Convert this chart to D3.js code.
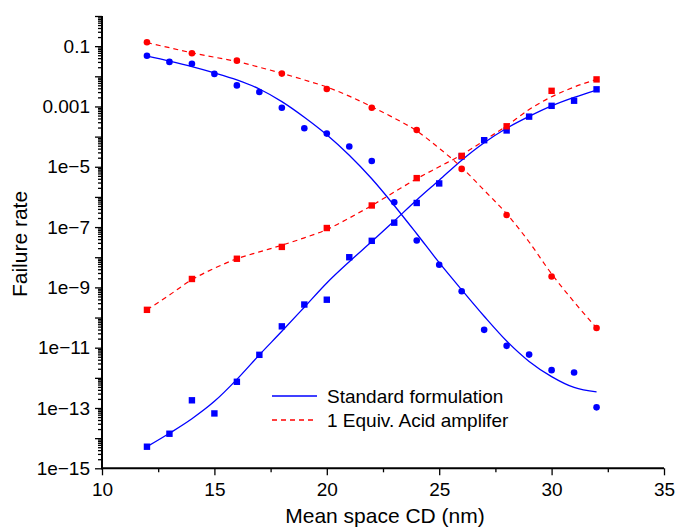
<!DOCTYPE html>
<html>
<head>
<meta charset="utf-8">
<script src="https://cdn.jsdelivr.net/npm/d3@7"></script>
<style>
  html, body { margin: 0; padding: 0; background: #fff; }
  svg { display: block; font-family: "Liberation Sans", Arial, sans-serif; }
</style>
</head>
<body>
<svg id="chart" width="677" height="529"></svg>
<script>
// Mean space CD (nm) for measured points and fitted curves
const cdAll = [12,13,14,15,16,17,18,19,20,21,22,23,24,25,26,27,28,29,30,31,32];
const cdEven = [12,14,16,18,20,22,24,26,28,30,32];

// Standard formulation: measured failure rates
const stdBridge = [4.8e-2,3.0e-2,2.6e-2,1.2e-2,5.0e-3,3.0e-3,9.1e-4,1.9e-4,1.26e-4,4.7e-5,1.55e-5,
                   6.6e-7,3.6e-8,5.6e-9,7.4e-10,3.9e-11,1.15e-11,5.9e-12,1.8e-12,1.5e-12,1.05e-13];
const stdBreak  = [5.2e-15,1.4e-14,1.8e-13,6.6e-14,7.4e-13,5.8e-12,5.1e-11,2.7e-10,3.9e-10,1.0e-8,3.5e-8,
                   1.4e-7,6.3e-7,2.8e-6,2.2e-5,7.6e-5,1.6e-4,4.6e-4,1.05e-3,1.55e-3,3.7e-3];
// Standard formulation: fitted curves
const stdBridgeFit = [4.7e-2,3.2e-2,2.1e-2,1.3e-2,7.6e-3,3.8e-3,1.45e-3,4.4e-4,1.15e-4,2.4e-5,4.0e-6,
                      5.2e-7,6.0e-8,6.6e-9,8.3e-10,1.1e-10,1.66e-11,3.5e-12,1.1e-12,4.8e-13,3.4e-13];
const stdBreakFit  = [5.2e-15,1.45e-14,4.4e-14,1.66e-13,8.9e-13,5.8e-12,3.5e-11,2.2e-10,1.4e-9,7.1e-9,3.3e-8,
                      1.6e-7,7.9e-7,3.6e-6,1.66e-5,6.3e-5,1.9e-4,4.7e-4,1.05e-3,2.0e-3,3.5e-3];

// 1 equiv. acid amplifier: measured failure rates
const aaBridge = [1.35e-1,5.8e-2,3.3e-2,1.23e-2,3.8e-3,9.1e-4,1.66e-4,8.5e-6,2.5e-7,2.3e-9,4.5e-11];
const aaBreak  = [1.8e-10,1.9e-9,8.9e-9,2.2e-8,9.3e-8,5.2e-7,4.2e-6,2.3e-5,2.2e-4,3.3e-3,7.9e-3];
// 1 equiv. acid amplifier: fitted curves
const aaBridgeFit = [1.3e-1,8.9e-2,6.0e-2,4.3e-2,3.1e-2,2.0e-2,1.26e-2,7.6e-3,4.4e-3,2.2e-3,9.8e-4,
                     4.1e-4,1.55e-4,4.1e-5,9.5e-6,1.66e-6,2.75e-7,3.2e-8,2.8e-9,3.3e-10,4.5e-11];
const aaBreakFit  = [1.8e-10,5.6e-10,1.8e-9,4.3e-9,8.9e-9,1.5e-8,2.5e-8,4.4e-8,8.3e-8,2.0e-7,5.2e-7,
                     1.45e-6,4.0e-6,1.0e-5,2.5e-5,7.4e-5,2.3e-4,7.9e-4,2.1e-3,4.4e-3,7.9e-3];

// Axis ticks
const xTicks = [10,15,20,25,30,35];
const xMinorTicks = [12.5,17.5,22.5,27.5,32.5];
const yDecades = [1e0,1e-1,1e-2,1e-3,1e-4,1e-5,1e-6,1e-7,1e-8,1e-9,1e-10,1e-11,1e-12,1e-13,1e-14,1e-15];
const yTickLabels = ["", "0.1", "", "0.001", "", "1e\u22125", "", "1e\u22127", "", "1e\u22129", "",
                     "1e\u221211", "", "1e\u221213", "", "1e\u221215"];
const legendLabels = ["Standard formulation", "1 Equiv. Acid amplifer"];

const BLUE = "#0000ff", RED = "#ff0000";

const svg = d3.select("#chart");
const x = d3.scaleLinear().domain([10, 35]).range([102, 664]);
const y = d3.scaleLog().domain([1e-15, 1]).range([468.3, 16]);

// minor log ticks 2..9 within each decade
const yMinor = [];
yDecades.slice(1).forEach(d => { for (let m = 2; m <= 9; m++) yMinor.push(d * m); });

// Y axis
const gy = svg.append("g").attr("transform", `translate(${x(10)},0)`);
gy.call(d3.axisLeft(y).tickValues(yMinor).tickSize(4).tickFormat(""));
gy.call(g => g.select(".domain").remove());
const gy2 = svg.append("g").attr("transform", `translate(${x(10)},0)`)
  .call(d3.axisLeft(y).tickValues(yDecades).tickSize(7).tickPadding(5)
        .tickFormat((d, i) => yTickLabels[i]));
[gy, gy2].forEach(g => {
  g.selectAll("line").attr("stroke", "#000").attr("stroke-width", 1.3);
});
gy2.select(".domain").attr("stroke", "#000").attr("stroke-width", 2)
   .attr("d", `M0,${y(1e-15) + 1}V${y(1)}`);
gy2.selectAll("text").attr("font-size", 19).attr("fill", "#000")
   .attr("font-family", "Liberation Sans, Arial, sans-serif");

// X axis
const gx = svg.append("g").attr("transform", `translate(0,${y(1e-15)})`);
gx.call(d3.axisBottom(x).tickValues(xMinorTicks).tickSize(4).tickFormat(""));
gx.call(g => g.select(".domain").remove());
const gx2 = svg.append("g").attr("transform", `translate(0,${y(1e-15)})`)
  .call(d3.axisBottom(x).tickValues(xTicks).tickSize(7).tickPadding(7).tickFormat(d3.format("d")));
[gx, gx2].forEach(g => g.selectAll("line").attr("stroke", "#000").attr("stroke-width", 1.3));
gx2.select(".domain").attr("stroke", "#000").attr("stroke-width", 2)
   .attr("d", `M${x(10) - 1},0H${x(35)}`);
gx2.selectAll("text").attr("font-size", 19).attr("fill", "#000")
   .attr("font-family", "Liberation Sans, Arial, sans-serif");

// Axis titles
svg.append("text").attr("x", 385).attr("y", 523).attr("text-anchor", "middle")
  .attr("font-size", 21).text("Mean space CD (nm)");
svg.append("text").attr("transform", "translate(27,244) rotate(-90)").attr("text-anchor", "middle")
  .attr("font-size", 21).text("Failure rate");

// Fitted curves
const line = d3.line().x(d => x(d[0])).y(d => y(d[1])).curve(d3.curveMonotoneX);
const zip = (xs, ys) => xs.map((v, i) => [v, ys[i]]);
const plot = svg.append("g");

plot.append("path").datum(zip(cdAll, stdBridgeFit)).attr("d", line)
  .attr("fill", "none").attr("stroke", BLUE).attr("stroke-width", 1.3);
plot.append("path").datum(zip(cdAll, stdBreakFit)).attr("d", line)
  .attr("fill", "none").attr("stroke", BLUE).attr("stroke-width", 1.3);
plot.append("path").datum(zip(cdAll, aaBridgeFit)).attr("d", line)
  .attr("fill", "none").attr("stroke", RED).attr("stroke-width", 1.2).attr("stroke-dasharray", "5,4");
plot.append("path").datum(zip(cdAll, aaBreakFit)).attr("d", line)
  .attr("fill", "none").attr("stroke", RED).attr("stroke-width", 1.2).attr("stroke-dasharray", "5,4");

// Measured points
const S = 6.4;
plot.selectAll(".sb").data(zip(cdAll, stdBreak)).join("rect")
  .attr("x", d => x(d[0]) - S / 2).attr("y", d => y(d[1]) - S / 2)
  .attr("width", S).attr("height", S).attr("fill", BLUE);
plot.selectAll(".sc").data(zip(cdAll, stdBridge)).join("circle")
  .attr("cx", d => x(d[0])).attr("cy", d => y(d[1])).attr("r", 3.3).attr("fill", BLUE);
plot.selectAll(".ab").data(zip(cdEven, aaBreak)).join("rect")
  .attr("x", d => x(d[0]) - S / 2).attr("y", d => y(d[1]) - S / 2)
  .attr("width", S).attr("height", S).attr("fill", RED);
plot.selectAll(".ac").data(zip(cdEven, aaBridge)).join("circle")
  .attr("cx", d => x(d[0])).attr("cy", d => y(d[1])).attr("r", 3.3).attr("fill", RED);

// Legend
const leg = svg.append("g");
[[BLUE, null], [RED, "5,4"]].forEach(([c, dash], i) => {
  const yy = 396 + i * 24;
  leg.append("line").attr("x1", 272).attr("x2", 317).attr("y1", yy).attr("y2", yy)
    .attr("stroke", c).attr("stroke-width", 1.3).attr("stroke-dasharray", dash);
  leg.append("text").attr("x", 327).attr("y", yy + 6.5).attr("font-size", 19)
    .text(legendLabels[i]);
});
</script>
</body>
</html>
